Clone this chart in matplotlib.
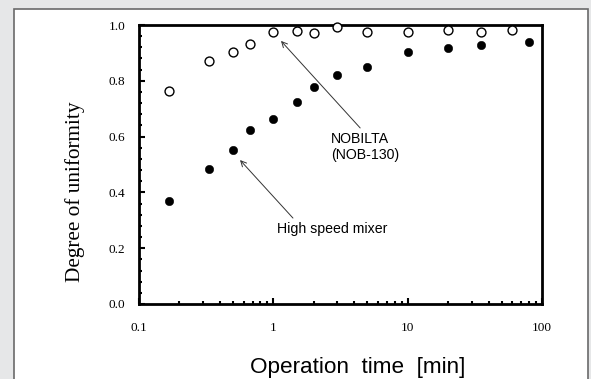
import matplotlib.pyplot as plt
from matplotlib.patches import Rectangle
from matplotlib.ticker import FixedLocator, LogLocator, MultipleLocator, NullFormatter

# operation time [min]
time_nob = [0.167, 0.333, 0.5, 0.667, 1.0, 1.5, 2.0, 3.0, 5.0, 10.0, 20.0, 35.0, 60.0]
uni_nob = [0.763, 0.871, 0.903, 0.932, 0.975, 0.978, 0.971, 0.993, 0.975, 0.975, 0.982, 0.975, 0.982]

time_hsm = [0.167, 0.333, 0.5, 0.667, 1.0, 1.5, 2.0, 3.0, 5.0, 10.0, 20.0, 35.0, 80.0]
uni_hsm = [0.369, 0.484, 0.552, 0.624, 0.663, 0.724, 0.778, 0.821, 0.849, 0.903, 0.918, 0.928, 0.939]

xticks = [0.1, 1, 10, 100]
xticklabels = ["0.1", "1", "10", "100"]
yticks = [0.0, 0.2, 0.4, 0.6, 0.8, 1.0]

W, H = 591, 379
fig = plt.figure(figsize=(W / 100, H / 100), dpi=100)
fig.patch.set_facecolor("#e6e7e8")

# white panel with a dark frame
panel = Rectangle((14.5 / W, -0.05), (588 - 14.5) / W, (H - 9.5) / H + 0.05,
                  transform=fig.transFigure, facecolor="white",
                  edgecolor="#6a6a6a", linewidth=1.2, zorder=-5)
fig.patches.append(panel)

ax = fig.add_axes([139 / W, (H - 304) / H, 403 / W, 279 / H])
ax.set_facecolor("none")
ax.set_zorder(2)

ax.plot(time_nob, uni_nob, "o", ms=6.4, mfc="white", mec="black", mew=1.0, clip_on=False, zorder=3)
ax.plot(time_hsm, uni_hsm, "o", ms=6.0, mfc="black", mec="black", mew=0.4, clip_on=False, zorder=3)

ax.set_xscale("log")
ax.set_xlim(0.1, 100)
ax.set_ylim(0, 1.0)

ax.xaxis.set_major_locator(FixedLocator(xticks))
ax.set_xticklabels(xticklabels)
ax.xaxis.set_minor_locator(LogLocator(base=10, subs=range(2, 10)))
ax.xaxis.set_minor_formatter(NullFormatter())
ax.set_yticks(yticks)
ax.set_yticklabels([f"{v:.1f}" for v in yticks])
ax.yaxis.set_minor_locator(MultipleLocator(0.04))

for sp in ax.spines.values():
    sp.set_linewidth(2.0)

ax.tick_params(which="both", direction="in", top=False, right=False, width=1.5)
ax.tick_params(which="major", length=4.5)
ax.tick_params(which="minor", length=2)
ax.tick_params(axis="x", which="major", pad=13)
ax.tick_params(axis="y", which="major", pad=10)
for lab in ax.get_xticklabels() + ax.get_yticklabels():
    lab.set_family("Liberation Serif")
    lab.set_fontsize(9.5)

fig.text(75 / W, (H - 192) / H, "Degree of uniformity", rotation=90,
         ha="center", va="center", family="Liberation Serif", fontsize=15.3)
fig.text(358 / W, (H - 373) / H, "Operation  time  [min]",
         ha="center", va="baseline", family="Liberation Sans", fontsize=16.2)

arrow = dict(arrowstyle="->", color="#333333", lw=0.7, shrinkA=0, shrinkB=0)
ax.annotate("", xy=(1.14, 0.943), xytext=(4.43, 0.631), arrowprops=arrow)
ax.text(2.69, 0.616, "NOBILTA\n(NOB-130)", ha="left", va="top",
        family="Liberation Sans", fontsize=10.2, linespacing=1.15)
ax.annotate("", xy=(0.565, 0.516), xytext=(1.40, 0.308), arrowprops=arrow)
ax.text(2.74, 0.269, "High speed mixer", ha="center", va="center",
        family="Liberation Sans", fontsize=10.2)

fig.savefig("out.png", dpi=100, facecolor=fig.get_facecolor())
